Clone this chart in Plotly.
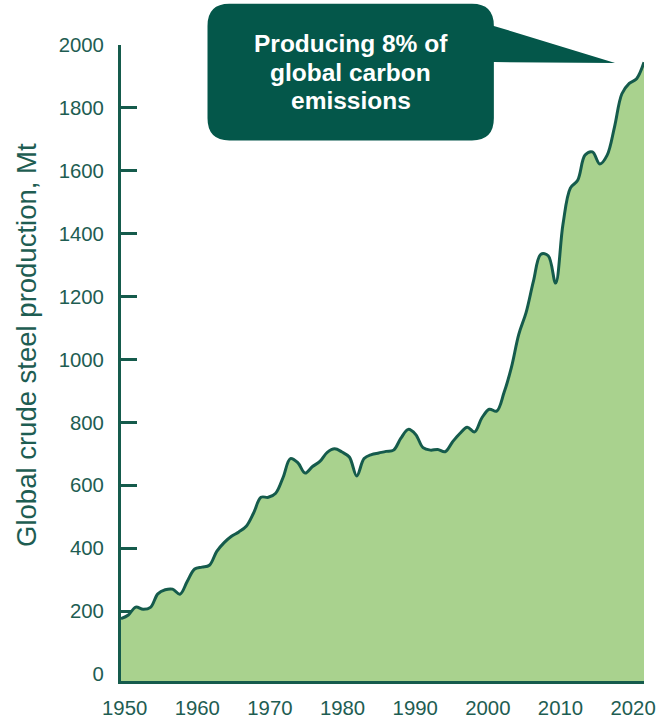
import plotly.graph_objects as go

# ---- data ----
years = list(range(1950, 2022))
production_mt = [
    176, 188, 213, 206, 212, 255, 268, 270, 254, 295,   # 1950-1959
    334, 340, 346, 390, 418, 438, 452, 470, 512, 562,   # 1960-1969
    562, 575, 625, 685, 672, 639, 660, 676, 705, 716,   # 1970-1979
    706, 690, 630, 685, 698, 703, 708, 712, 750, 778,   # 1980-1989
    762, 720, 712, 714, 707, 738, 765, 785, 770, 815,   # 1990-1999
    842, 836, 895, 975, 1080, 1150, 1250, 1335, 1330, 1243,  # 2000-2009
    1430, 1545, 1570, 1650, 1660, 1622, 1650, 1740, 1845, 1878,  # 2010-2019
    1893, 1945,                                          # 2020-2021
]
x_ticks = [1950, 1960, 1970, 1980, 1990, 2000, 2010, 2020]
y_ticks = list(range(0, 2001, 200))
y_title = "Global crude steel production, Mt"
callout_lines = ["Producing 8% of", "global carbon", "emissions"]

# ---- geometry ----
# target picture size and the canvas the page is captured from
OUT_W, OUT_H = 660, 715
CW, CH = 668, 731
SX, SY = CW / OUT_W, CH / OUT_H
SF = (SX + SY) / 2

# plot box in picture pixels
BOX_L, BOX_R, BOX_T, BOX_B = 120, 646, 44, 677
ML, MR = BOX_L * SX, (OUT_W - BOX_R) * SX
MT, MB = BOX_T * SY, (OUT_H - BOX_B) * SY
pw, ph = CW - ML - MR, CH - MT - MB

Y_MIN, Y_MAX = -22, 2000
LINE = "#155b4c"
FILL = "#a9d28e"
TEXT = "#1e5d52"
BUBBLE = "#04574a"
FONT = "Liberation Sans, Arial, sans-serif"


def px(x):
    return (x * SX - ML) / pw


def py(y):
    return (CH - MB - y * SY) / ph


fig = go.Figure()

# baseline at the bottom of the axis so the fill reaches the x axis line
fig.add_trace(go.Scatter(
    x=years, y=[Y_MIN] * len(years), mode="lines",
    line=dict(width=0, shape="spline", color=FILL),
    hoverinfo="skip", showlegend=False,
))
fig.add_trace(go.Scatter(
    x=years, y=production_mt, mode="lines",
    line=dict(color=LINE, width=3, shape="spline", smoothing=1),
    fill="tonexty", fillcolor=FILL, showlegend=False,
))
# empty trace that carries the label axis
fig.add_trace(go.Scatter(x=[None], y=[None], xaxis="x2", yaxis="y",
                         showlegend=False, hoverinfo="skip"))

# speech bubble (picture pixels)
L, R, T, B, r = 207, 495, 3, 139, 22
tip = (617, 62)
pts = [
    ("M", L + r, T), ("L", R - r, T), ("Q", R, T, R, T + r),
    ("L", R, 25), ("L", tip[0], tip[1]), ("L", R, 61),
    ("L", R, B - r), ("Q", R, B, R - r, B), ("L", L + r, B),
    ("Q", L, B, L, B - r), ("L", L, T + r), ("Q", L, T, L + r, T),
]
path = ""
for p in pts:
    cmd = p[0]
    coords = p[1:]
    s = []
    for i in range(0, len(coords), 2):
        s.append(f"{px(coords[i]):.5f},{py(coords[i + 1]):.5f}")
    path += cmd + " ".join(s) + " "
path += "Z"
fig.add_shape(type="path", path=path, xref="paper", yref="paper",
              fillcolor=BUBBLE, line=dict(width=0), layer="above")

line_centres = [42.5, 71, 99.3]
for txt, yc in zip(callout_lines, line_centres):
    fig.add_annotation(
        text=txt, xref="paper", yref="paper",
        x=px((L + R) / 2), y=py(yc), xanchor="center", yanchor="middle",
        showarrow=False, align="center",
        font=dict(family=FONT, size=24.5, color="white", weight="bold"),
    )

fig.add_annotation(
    text=y_title, xref="paper", yref="paper",
    x=px(25), y=py(343), xanchor="center", yanchor="middle",
    textangle=-90, showarrow=False,
    font=dict(family=FONT, size=27.5, color=TEXT),
)

fig.update_layout(
    autosize=True,
    margin=dict(l=ML, r=MR, t=MT, b=MB),
    paper_bgcolor="white", plot_bgcolor="white",
    showlegend=False,
    xaxis=dict(
        range=[years[0], years[-1]], showticklabels=False,
        ticks="", showline=True, linewidth=3, linecolor=LINE,
        showgrid=False, zeroline=False, fixedrange=True,
    ),
    xaxis2=dict(
        overlaying="x", anchor="y", side="bottom",
        range=[years[0] - 0.5, years[-1] + 0.5], tickvals=x_ticks,
        ticks="", showline=False, showgrid=False, zeroline=False,
        tickfont=dict(family=FONT, size=20 * SF, color=TEXT),
        ticklabelstandoff=13, ticklabeloverflow="allow",
        fixedrange=True,
    ),
    yaxis=dict(
        range=[Y_MIN, Y_MAX], tickvals=y_ticks,
        ticks="inside", ticklen=16 * SX, tickwidth=3, tickcolor=LINE,
        showline=True, linewidth=3, linecolor=LINE,
        showgrid=False, zeroline=False, layer="below traces",
        tickfont=dict(family=FONT, size=20 * SF, color=TEXT),
        ticklabelstandoff=int(round(10 * SX)), fixedrange=True,
    ),
)

fig.write_html(
    "out.html",
    config={"displayModeBar": False},
    default_width=f"{CW}px",
    default_height=f"{CH}px;position:absolute;left:0;top:0",
)
